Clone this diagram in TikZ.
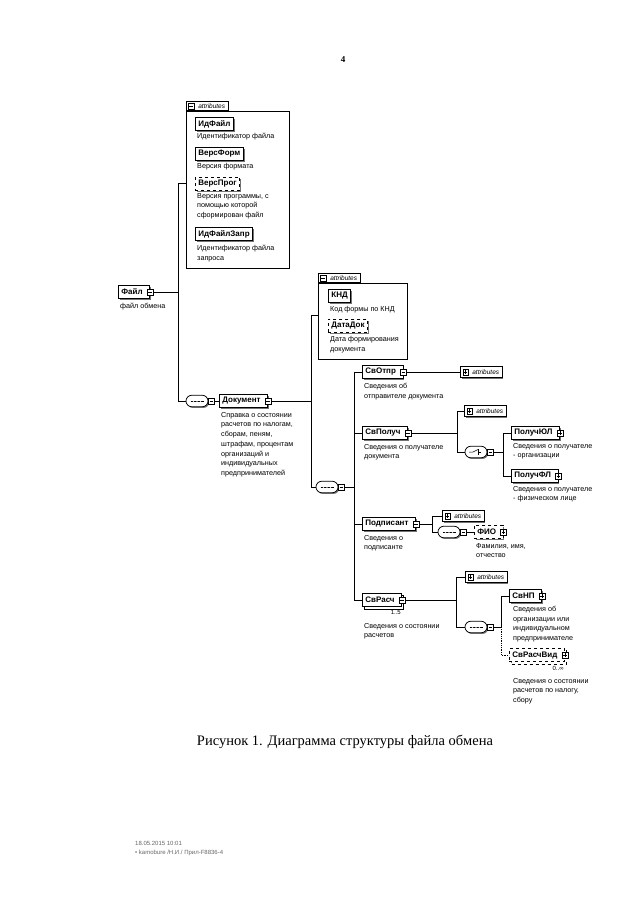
\documentclass[tikz,border=0pt]{standalone}
\usepackage{fontspec}
\setmainfont{Liberation Serif}
\newfontfamily\arial{Liberation Sans}
\usetikzlibrary{shapes.misc,shadows}
\begin{document}
\begin{tikzpicture}[x=1pt,y=-1pt,
  conn/.style={line width=0.8pt},
  lbl/.style={font=\arial\fontsize{7.2}{9.7}\selectfont, align=left, inner sep=0pt, anchor=north west},
  elem/.style={draw, line width=0.75pt, fill=white, font=\arial\bfseries\fontsize{8}{9}\selectfont,
     inner xsep=3pt, inner ysep=0pt, minimum height=13.5pt, anchor=west,
     drop shadow={shadow xshift=1.3pt, shadow yshift=-1.3pt, fill=black!55, opacity=1}},
  elemx/.style={elem, execute at end node={\hspace{4pt}}},
  multi/.style={copy shadow={shadow xshift=2.2pt, shadow yshift=-2.2pt}},
  symbase/.style={draw, fill=white, line width=0.5pt, minimum size=6pt, inner sep=0pt},
  minusbox/.style={symbase, path picture={\draw[line width=0.5pt]
     ([xshift=1.2pt]path picture bounding box.west) -- ([xshift=-1.2pt]path picture bounding box.east);}},
  plusbox/.style={symbase, path picture={\draw[line width=0.5pt]
     ([xshift=1.2pt]path picture bounding box.west) -- ([xshift=-1.2pt]path picture bounding box.east)
     ([yshift=1.2pt]path picture bounding box.south) -- ([yshift=-1.2pt]path picture bounding box.north);}},
  abox/.style={draw, line width=0.75pt, anchor=north west, inner sep=0pt},
  tab/.style={draw, line width=0.75pt, fill=white, font=\arial\itshape\fontsize{6.5}{7}\selectfont,
     inner xsep=3pt, inner ysep=0pt, minimum height=9pt, anchor=south west, execute at begin node={\hspace{9pt}}},
  attrc/.style={draw, line width=0.75pt, fill=white, font=\arial\itshape\fontsize{6.5}{7}\selectfont,
     inner xsep=3pt, inner ysep=0pt, minimum height=11.5pt, anchor=west, execute at begin node={\hspace{9pt}},
     drop shadow={shadow xshift=1.2pt, shadow yshift=-1.2pt, fill=black!55, opacity=1}},
  compbase/.style={rounded rectangle, draw, line width=0.75pt, fill=white, minimum width=22pt,
     minimum height=11.5pt, inner sep=0pt,
     drop shadow={shadow xshift=1.2pt, shadow yshift=-1.2pt, fill=black!55, opacity=1}},
  seqc/.style={compbase, path picture={
     \draw[line width=0.5pt] ([xshift=-6.5pt]path picture bounding box.center) -- ([xshift=6.5pt]path picture bounding box.center);
     \foreach \d in {-3.5pt,0pt,3.5pt} \fill ([xshift=\d]path picture bounding box.center) circle (0.9pt);}},
  choc/.style={compbase, path picture={
     \draw[line width=0.5pt] ([xshift=-7pt]path picture bounding box.center) -- ([xshift=-3pt]path picture bounding box.center)
       -- ([xshift=2pt,yshift=2.5pt]path picture bounding box.center);
     \draw[line width=0.5pt] ([xshift=2pt,yshift=3pt]path picture bounding box.center) -- ([xshift=2pt,yshift=-3pt]path picture bounding box.center);
     \draw[line width=0.5pt] ([xshift=2pt]path picture bounding box.center) -- ([xshift=5pt]path picture bounding box.center);}},
  small/.style={font=\arial\fontsize{6}{7}\selectfont, inner sep=0pt}
]
\useasboundingbox (0,0) rectangle (640,905);

% page number
\node[font=\bfseries\fontsize{9}{10}\selectfont] (pg) at (343,60) {4};

% ---- attributes of Файл
\node[abox, minimum width=103pt, minimum height=157pt] (A1) at (186,111) {};
\node[tab] (A1t) at (A1.north west) {attributes};
\node[minusbox, minimum size=5.5pt] (A1tm) at ([xshift=5pt]A1t.west) {};
\node[elem] (idf) at (195,124) {ИдФайл};
\node[lbl] (idfL) at (197,133) {Идентификатор файла};
\node[elem] (vf) at (195,154) {ВерсФорм};
\node[lbl] (vfL) at (197,163) {Версия формата};
\node[elem, dashed] (vp) at (195,184) {ВерсПрог};
\node[lbl] (vpL) at (197,193) {Версия программы, с\\помощью которой\\сформирован файл};
\node[elem] (idz) at (195,234) {ИдФайлЗапр};
\node[lbl] (idzL) at (197,245) {Идентификатор файла\\запроса};

% ---- Файл
\node[elemx] (fl) at (118,292) {Файл};
\node[minusbox] (flm) at (fl.east) {};
\node[lbl] (flL) at (120,303) {файл обмена};

\coordinate (b1a) at (178,183);
\coordinate (b1b) at (178,401);
\node[seqc] (sq1) at (197,401) {};
\node[minusbox] (sq1m) at ([xshift=3pt]sq1.east) {};
\node[elemx] (doc) at (219,401) {Документ};
\node[minusbox] (docm) at (doc.east) {};
\node[lbl] (docL) at (221,412) {Справка о состоянии\\расчетов по налогам,\\сборам, пеням,\\штрафам, процентам\\организаций и\\индивидуальных\\предпринимателей};

\draw[conn] (flm.east) -- (flm.east -| b1a);
\draw[conn] (A1.west |- b1a) -- (b1a) -- (b1b) -- (sq1.west);
\draw[conn] (sq1m.east) -- (doc.west);

% ---- attributes of Документ
\node[abox, minimum width=89pt, minimum height=76pt] (A2) at (318,283) {};
\node[tab] (A2t) at (A2.north west) {attributes};
\node[minusbox, minimum size=5.5pt] (A2tm) at ([xshift=5pt]A2t.west) {};
\node[elem] (knd) at (328,296) {КНД};
\node[lbl] (kndL) at (330,306) {Код формы по КНД};
\node[elem, dashed] (dd) at (328,326) {ДатаДок};
\node[lbl] (ddL) at (330,336) {Дата формирования\\документа};

\coordinate (b2a) at (311,315);
\coordinate (b2b) at (311,487);
\node[seqc] (sq2) at (327,487) {};
\node[minusbox] (sq2m) at ([xshift=3pt]sq2.east) {};
\draw[conn] (docm.east) -- (docm.east -| b2a);
\draw[conn] (A2.west |- b2a) -- (b2a) -- (b2b) -- (sq2.west);

% ---- children of Документ
\coordinate (b3a) at (354,372);
\coordinate (b3b) at (354,600);

\node[elemx] (otp) at (362,372) {СвОтпр};
\node[minusbox] (otpm) at (otp.east) {};
\node[attrc] (otpA) at (460,372) {attributes};
\node[plusbox, minimum size=5.5pt] (otpAp) at ([xshift=5.5pt]otpA.west) {};
\node[lbl] (otpL) at (364,383) {Сведения об\\отправителе документа};
\draw[conn] (otpm.east) -- (otpA.west);

\node[elemx] (pol) at (362,433) {СвПолуч};
\node[minusbox] (polm) at (pol.east) {};
\node[lbl] (polL) at (364,444) {Сведения о получателе\\документа};
\coordinate (b4a) at (457,411);
\coordinate (b4b) at (457,452);
\node[attrc] (polA) at (464,411) {attributes};
\node[plusbox, minimum size=5.5pt] (polAp) at ([xshift=5.5pt]polA.west) {};
\node[choc] (ch) at (476,452) {};
\node[minusbox] (chm) at ([xshift=3pt]ch.east) {};
\coordinate (b5a) at (503,433);
\coordinate (b5b) at (503,476);
\node[elemx] (pul) at (511,433) {ПолучЮЛ};
\node[plusbox] (pulm) at (pul.east) {};
\node[lbl] (pulL) at (513,443) {Сведения о получателе\\- организации};
\node[elemx] (pfl) at (511,476) {ПолучФЛ};
\node[plusbox] (pflm) at (pfl.east) {};
\node[lbl] (pflL) at (513,486) {Сведения о получателе\\- физическом лице};
\draw[conn] (polm.east) -- (polm.east -| b4a);
\draw[conn] (polA.west) -- (b4a) -- (b4b) -- (ch.west);
\draw[conn] (chm.east) -- (chm.east -| b5a);
\draw[conn] (pul.west) -- (b5a) -- (b5b) -- (pfl.west);

\node[elemx] (podp) at (362,524) {Подписант};
\node[minusbox] (podpm) at (podp.east) {};
\node[lbl] (podpL) at (364,535) {Сведения о\\подписанте};
\coordinate (b6a) at (432,516);
\coordinate (b6b) at (432,532);
\node[attrc] (podpA) at (442,516) {attributes};
\node[plusbox, minimum size=5.5pt] (podpAp) at ([xshift=5.5pt]podpA.west) {};
\node[seqc] (sq3) at (449,532) {};
\node[minusbox] (sq3m) at ([xshift=3pt]sq3.east) {};
\node[elemx, dashed] (fio) at (474,532) {ФИО};
\node[plusbox] (fiom) at (fio.east) {};
\node[lbl] (fioL) at (476,543) {Фамилия, имя,\\отчество};
\draw[conn] (podpm.east) -- (podpm.east -| b6a);
\draw[conn] (podpA.west) -- (b6a) -- (b6b) -- (sq3.west);
\draw[conn] (sq3m.east) -- (fio.west);

\node[elemx, multi] (ras) at (362,600) {СвРасч};
\node[minusbox] (rasm) at (ras.east) {};
\node[small, anchor=north east] (r15) at ([xshift=-1pt,yshift=-3.5pt]ras.south east) {1..5};
\node[lbl] (rasL) at (364,623) {Сведения о состоянии\\расчетов};
\coordinate (b7a) at (456,577);
\coordinate (b7b) at (456,627);
\node[attrc] (rasA) at (465,577) {attributes};
\node[plusbox, minimum size=5.5pt] (rasAp) at ([xshift=5.5pt]rasA.west) {};
\node[seqc] (sq4) at (476,627) {};
\node[minusbox] (sq4m) at ([xshift=3pt]sq4.east) {};
\coordinate (b8a) at (501,596);
\coordinate (b8m) at (501,627);
\coordinate (b8b) at (501,655);
\node[elemx] (np) at (509,596) {СвНП};
\node[plusbox] (npm) at (np.east) {};
\node[lbl] (npL) at (513,606) {Сведения об\\организации или\\индивидуальном\\предпринимателе};
\node[elemx, dashed, multi] (rv) at (509,655) {СвРасчВид};
\node[plusbox] (rvm) at (rv.east) {};
\node[small, anchor=north east] (r0) at ([xshift=-1pt,yshift=-3.5pt]rv.south east) {0..∞};
\node[lbl] (rvL) at (513,678) {Сведения о состоянии\\расчетов по налогу,\\сбору};
\draw[conn] (rasm.east) -- (rasm.east -| b7a);
\draw[conn] (rasA.west) -- (b7a) -- (b7b) -- (sq4.west);
\draw[conn] (sq4m.east) -- (sq4m.east -| b8m);
\draw[conn] (np.west) -- (b8a) -- (b8m);
\draw[conn, densely dotted] (b8m) -- (b8b) -- (rv.west);

\draw[conn] (otp.west) -- (b3a) -- (b3b) -- (ras.west);
\draw[conn] (pol.west) -- (pol.west -| b3a);
\draw[conn] (podp.west) -- (podp.west -| b3a);
\draw[conn] (sq2m.east) -- (sq2m.east -| b3a);

% caption
\node[font=\fontsize{14.5}{16}\selectfont] (cap) at (345,742) {Рисунок 1. Диаграмма структуры файла обмена};

% footer
\node[lbl, text=black!60, font=\arial\fontsize{6}{9}\selectfont] (ft) at (135,841) {18.05.2015 10:01\\\textbullet\ kamobure /Н.И./ Прил-F8836-4};
\end{tikzpicture}
\end{document}
